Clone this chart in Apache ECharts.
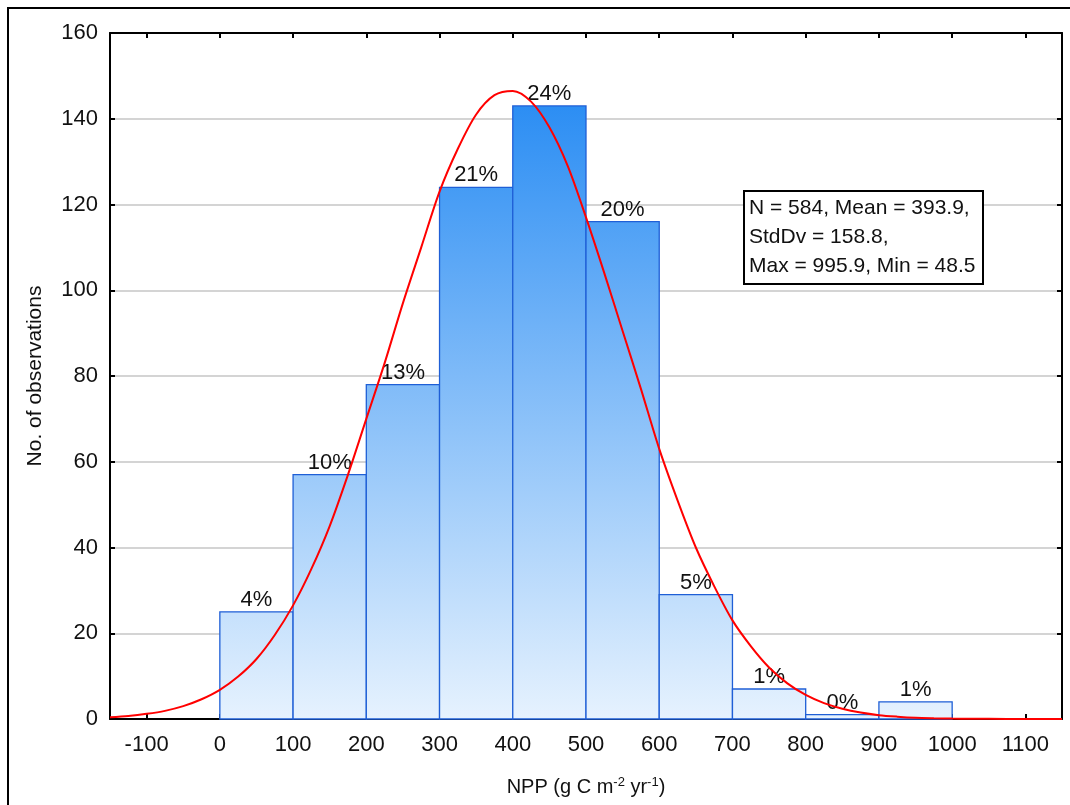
<!DOCTYPE html>
<html>
<head>
<meta charset="utf-8">
<script src="https://cdn.jsdelivr.net/npm/echarts@6/dist/echarts.min.js"></script>
<style>
  html, body { margin: 0; padding: 0; background: #fff; }
  #histNPP { width: 1070px; height: 805px; }
</style>
</head>
<body>
<div id="histNPP"></div>
<script>
// histogram bins (lower edges), counts and percent labels
var binStart = [0, 100, 200, 300, 400, 500, 600, 700, 800, 900]
var binWidth = 100
var counts = [25, 57, 78, 124, 143, 116, 29, 7, 1, 4]
var pctLabels = ['4%', '10%', '13%', '21%', '24%', '20%', '5%', '1%', '0%', '1%']
// fitted curve
var curveX = [-150, -125, -100, -75, -50, -25, 0, 25, 50, 75, 100, 125, 150, 175, 200, 225, 250, 275, 300, 325, 350, 375, 400, 425, 450, 475, 500, 525, 550, 575, 600, 625, 650, 675, 700, 725, 750, 775, 800, 825, 850, 875, 900, 925, 950, 975, 1000, 1025, 1050, 1100, 1150]
var curveY = [0.4, 0.7, 1.2, 1.9, 3, 4.6, 6.8, 9.9, 14, 19.6, 26.5, 35, 45, 57, 70, 83, 97, 110, 123, 133, 141, 145.5, 146.5, 144, 138, 129, 117, 104, 90.5, 77, 63, 51, 40, 31, 23, 17, 12, 8.3, 5.6, 3.7, 2.4, 1.5, 0.9, 0.55, 0.3, 0.18, 0.1, 0.05, 0.03, 0.01, 0]
var xTicks = [-100, 0, 100, 200, 300, 400, 500, 600, 700, 800, 900, 1000, 1100]
var statsLines = ['N = 584, Mean = 393.9,', 'StdDv = 158.8,', 'Max = 995.9, Min = 48.5']

var FONT = 'Liberation Sans, Arial, sans-serif'
var myChart = echarts.init(document.getElementById('histNPP'))

var barFill = new echarts.graphic.LinearGradient(0, 33, 0, 719, [
  { offset: 0, color: '#1682f2' },
  { offset: 1, color: '#e6f2fe' }
], true)

var barData = binStart.map(function (s, i) { return [s, s + binWidth, counts[i], pctLabels[i]] })
var curveData = curveX.map(function (x, i) { return [x, curveY[i]] })

var option = {
  animation: false,
  backgroundColor: '#fff',
  grid: { left: 110, right: 8, top: 33, bottom: 86 },
  xAxis: [
    {
      type: 'value',
      min: -150,
      max: 1150,
      position: 'bottom',
      axisLine: { onZero: false, lineStyle: { color: '#000', width: 2 } },
      axisTick: { inside: true, length: 5, customValues: xTicks, lineStyle: { color: '#000', width: 2 } },
      axisLabel: {
        customValues: xTicks, margin: 15, color: '#111', fontSize: 22, fontFamily: FONT,
        formatter: function (v) { return String(v) }
      },
      splitLine: { show: false },
      name: 'NPP (g C m{sup|-2} yr{sup|-1})',
      nameLocation: 'middle',
      nameGap: 57,
      nameTextStyle: {
        color: '#111', fontSize: 20, fontFamily: FONT,
        rich: { sup: { fontSize: 13, verticalAlign: 'top', padding: [0, 0, 9, 0], fontFamily: FONT, color: '#111' } }
      }
    },
    {
      type: 'value',
      min: -150,
      max: 1150,
      position: 'top',
      axisLine: { onZero: false, lineStyle: { color: '#000', width: 2 } },
      axisTick: { inside: true, length: 5, customValues: xTicks, lineStyle: { color: '#000', width: 2 } },
      axisLabel: { show: false },
      splitLine: { show: false }
    }
  ],
  yAxis: [
    {
      type: 'value',
      min: 0,
      max: 160,
      interval: 20,
      axisLine: { show: true, onZero: false, lineStyle: { color: '#000', width: 2 } },
      axisTick: { show: true, inside: true, length: 5, lineStyle: { color: '#000', width: 2 } },
      axisLabel: { margin: 12, color: '#111', fontSize: 22, fontFamily: FONT },
      splitLine: { show: true, lineStyle: { color: '#d4d4d4', width: 2 } },
      name: 'No. of observations',
      nameLocation: 'middle',
      nameGap: 64,
      nameTextStyle: { color: '#111', fontSize: 21, fontFamily: FONT }
    },
    {
      type: 'value',
      min: 0,
      max: 160,
      interval: 20,
      position: 'right',
      axisLine: { show: true, onZero: false, lineStyle: { color: '#000', width: 2 } },
      axisTick: { show: true, inside: true, length: 5, lineStyle: { color: '#000', width: 2 } },
      axisLabel: { show: false },
      splitLine: { show: false }
    }
  ],
  series: [
    {
      type: 'custom',
      data: barData,
      encode: { x: [0, 1], y: 2 },
      renderItem: function (params, api) {
        var p0 = api.coord([api.value(0), api.value(2)])
        var p1 = api.coord([api.value(1), 0])
        return {
          type: 'group',
          children: [
            {
              type: 'rect',
              shape: { x: p0[0], y: p0[1], width: p1[0] - p0[0], height: p1[1] - p0[1] },
              style: { fill: barFill, stroke: '#1f5fd6', lineWidth: 1.3 }
            },
            {
              type: 'text',
              style: {
                text: barData[params.dataIndex][3],
                x: (p0[0] + p1[0]) / 2,
                y: p0[1] - 1,
                align: 'center',
                verticalAlign: 'bottom',
                fill: '#111',
                font: '22px ' + FONT
              }
            }
          ]
        }
      },
      z: 2
    },
    {
      type: 'line',
      data: curveData,
      smooth: 0.3,
      symbol: 'none',
      lineStyle: { color: '#ff0000', width: 2 },
      z: 3
    }
  ],
  graphic: [
    {
      type: 'rect',
      shape: { x: 8, y: 8, width: 1100, height: 850 },
      style: { fill: 'none', stroke: '#000', lineWidth: 2 },
      silent: true
    },
    {
      type: 'rect',
      shape: { x: 744, y: 191, width: 239, height: 93 },
      style: { fill: '#fff', stroke: '#000', lineWidth: 2 },
      z: 10
    },
    {
      type: 'text',
      left: 749,
      top: 194,
      style: {
        text: statsLines.join('\n'),
        font: '21px ' + FONT,
        lineHeight: 29,
        fill: '#111'
      },
      z: 11
    }
  ]
}

myChart.setOption(option, true)
</script>
</body>
</html>
